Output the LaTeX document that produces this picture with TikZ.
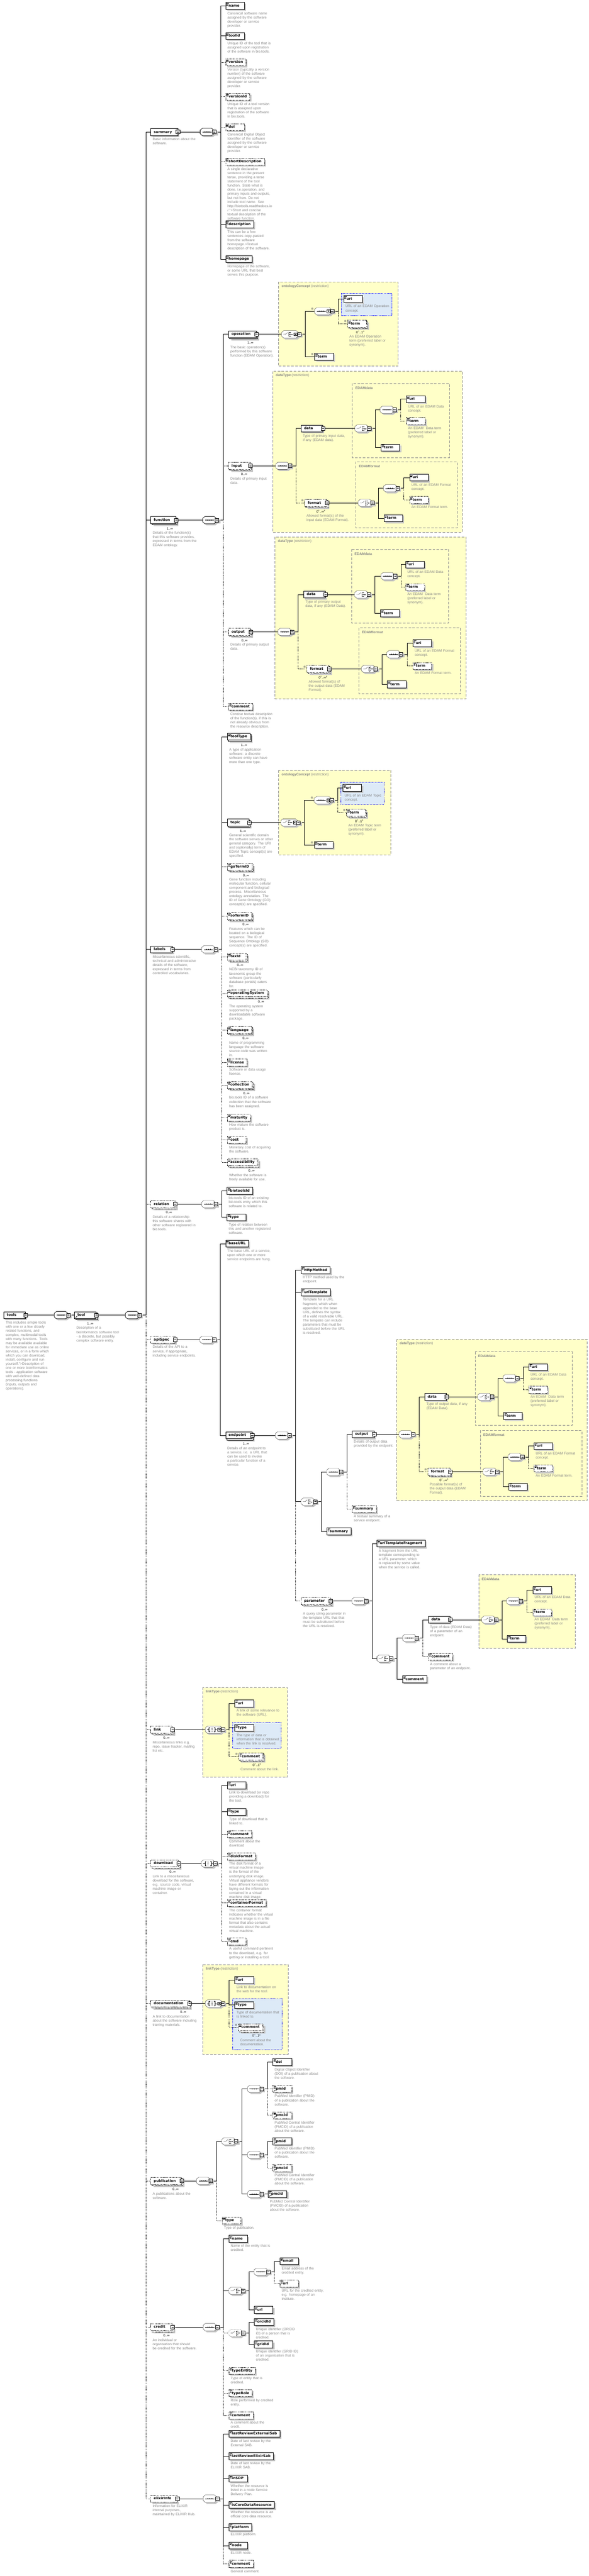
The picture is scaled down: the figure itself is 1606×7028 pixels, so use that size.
\documentclass[tikz,border=0pt]{standalone}
\usepackage{fontspec}
\usetikzlibrary{positioning,shadows,arrows.meta}
\newfontfamily\lblf{DejaVu Sans}
\newfontfamily\dscf{Liberation Sans}
\newcommand\lblfont{\lblf\bfseries\fontsize{9.5pt}{11pt}\selectfont}
\newcommand\dscfont{\dscf\fontsize{9.5pt}{11.3pt}\selectfont\hyphenpenalty=10000\exhyphenpenalty=10000}
\definecolor{descgray}{HTML}{858585}
\definecolor{shadowgray}{HTML}{C4C4C4}
\definecolor{typefill}{HTML}{FFFFC8}
\definecolor{typeline}{HTML}{8C8C8C}
\definecolor{bluefill}{HTML}{DDEAF7}
\pgfdeclarelayer{back}
\pgfdeclarelayer{bg}
\pgfsetlayers{back,bg,main}

% little icons drawn inside the element boxes
\newcommand\IconLines{\draw[solid,line width=.8pt] ([shift={(2pt,-2.5pt)}]path picture bounding box.north west) -- ++(7pt,0pt) ([shift={(2pt,-5pt)}]path picture bounding box.north west) -- ++(5pt,0pt) ([shift={(2pt,-7.5pt)}]path picture bounding box.north west) -- ++(5pt,0pt);}
\newcommand\IconRef{\draw[solid,line width=.8pt,-{Stealth[length=3pt,width=3pt]}] ([shift={(2pt,2pt)}]path picture bounding box.south west) -- ++(5pt,5pt);}
% labels shorter than the minimum box width stay left aligned
\newcommand\MinLbl[1]{\setbox0\hbox{#1}\ifdim\wd0<35pt\hbox to 35pt{#1\hfil}\else\box0\fi}

\tikzset{
  conn/.style={line width=1pt},
  dsh/.style={dash pattern=on 2pt off 2pt},
  box/.style={draw, fill=white, line width=1pt, anchor=west, font=\lblfont, minimum height=19pt, inner xsep=8pt, inner ysep=0pt, text height=7.5pt, text depth=2pt},
  req/.style={box, drop shadow={shadow xshift=4pt, shadow yshift=-4pt, fill=shadowgray, opacity=1}},
  opt/.style={req, dsh},
  mul/.style={drop shadow={shadow xshift=7pt, shadow yshift=-7pt, fill=shadowgray, opacity=1}, copy shadow={shadow xshift=3pt, shadow yshift=-3pt, fill=white, draw=black}},
  minus/.style={draw, fill=white, solid, line width=1pt, anchor=center, minimum size=10pt, inner sep=0pt, path picture={\draw[line width=1pt] ([xshift=2pt]path picture bounding box.west) -- ([xshift=-2pt]path picture bounding box.east);}},
  cpx/.style={execute at end node={\hspace*{8pt}}, label={[minus]east:{}}},
  ic/.style={path picture={\IconLines}},
  rf/.style={path picture={\IconRef}},
  icrf/.style={path picture={\IconLines\IconRef}},
  xmk/.style={font=\lblf\fontsize{8.5pt}{8.5pt}\selectfont, text=black!60, inner sep=0pt},
  xm/.style={label={[xmk, anchor=center, xshift=-6pt, yshift=-4pt]north west:⊗}},
  desc/.style={font=\dscfont, text=descgray, text width=120pt, align=left, inner sep=0pt},
  occ/.style={font=\dscf\fontsize{9pt}{10pt}\selectfont, inner sep=0pt},
  sym/.style={anchor=west, minimum height=20pt, inner sep=0pt},
  tbox/.style={draw=typeline, fill=typefill, line width=1pt, dash pattern=on 7pt off 4pt},
  bbox/.style={draw=blue, fill=bluefill, line width=1pt, dash pattern=on 2pt off 2pt},
  ttl/.style={anchor=west, font=\dscfont, text=descgray, inner sep=0pt}
}

% element box with its description
\newcommand\Elem[5][]{\node[#1] (#2) at (#3) {\MinLbl{#4}};
  \if\relax\detokenize{#5}\relax\else\node[desc, below right=6pt and 5pt of #2.south west] (#2-d) {#5};\fi}
% repeated element: occurrence under the box
\newcommand\ElemN[6][]{\node[#1,mul] (#2) at (#3) {\MinLbl{#4}};
  \node[occ] (#2-o) at ([xshift=-17pt,yshift=-13pt]#2.south east) {#5};
  \if\relax\detokenize{#6}\relax\else\node[desc, below right=21pt and 5pt of #2.south west] (#2-d) {#6};\fi}
% compositor symbols (sequence, choice, all)
\newcommand\GSeq{\draw (6,0) -- (31,0); \foreach \k in {13,18.5,24} \fill (\k,0) circle (1.5pt);}
\newcommand\GCho{\draw (5,0) -- (11,0) -- (17,-5) (20,-6) -- (20,6); \foreach \k in {-5,0,5} {\draw (20,\k) -- (23,\k); \fill (24.5,\k) circle (1.2pt);} \draw (26,0) -- (31,0);}
\newcommand\GAll{\draw (5,0) -- (10,0) (13,-6) -- (10,-6) -- (10,6) -- (13,6) (24,-6) -- (27,-6) -- (27,6) -- (24,6) (27,0) -- (32,0); \foreach \k in {-4,0,4} \fill (18.5,\k) circle (1.2pt);}
\newcommand\GDd{\draw[line width=.8pt, fill=white] (34,-4) rectangle (42,4); \fill (35.5,-1.5) -- (40.5,-1.5) -- (38,2) -- cycle;}
\newcommand\Comp[5][]{\node[sym, minimum width=#5pt] (#2) at (#3) {};
  \begin{scope}[shift={(#2.west)}]
    \fill[shadowgray] (4,-1) -- (10,-6) -- ({#5-2},-6) -- ({#5+4},-1) -- ({#5+4},9) -- ({#5-2},14) -- (10,14) -- (4,9) -- cycle;
    \fill[shadowgray] ({#5+1},-1) rectangle ({#5+11},9);
    \draw[fill=white,#1] (0,-5) -- (6,-10) -- ({#5-6},-10) -- (#5,-5) -- (#5,5) -- ({#5-6},10) -- (6,10) -- (0,5) -- cycle;
    #4
    \draw[draw=black, fill=white, line width=1.1pt] ({#5-3},-5) rectangle ({#5+7},5);
    \draw[draw=black, line width=1.1pt] ({#5-1},0) -- ({#5+5},0);
  \end{scope}}
\newcommand\SeqC[2]{\Comp{#1}{#2}{\GSeq}{37}}
\newcommand\ChoC[2]{\Comp{#1}{#2}{\GCho}{37}}
% connectors from a compositor to its children
\newcommand\Fan[3][]{\foreach \nd in {#3} {\draw[conn,#1] (#2.east) -- ++(18,0) |- (\nd.west);}}
% yellow type box and blue group box
\newcommand\TypeBox[4]{\begin{pgfonlayer}{back}\draw[tbox] (#2) rectangle (#3);\end{pgfonlayer}
  \node[ttl] (#1) at ([shift={(8pt,-12pt)}]#2) {#4};}
\newcommand\BlueBox[2]{\begin{pgfonlayer}{back}\draw[bbox] (#1) rectangle (#2);\end{pgfonlayer}}

\begin{document}
\begin{tikzpicture}[x=1pt,y=-1pt,line width=1pt]
\useasboundingbox (0,0) rectangle (1606,7028);

% root
\Elem[req,cpx]{tools}{10,3588}{tools}{This includes simple tools with one or a few closely related functions, and complex, multimodal tools with many functions.  Tools may be available available for immediate use as online services, or in a form which which you can download, install, configure and run yourself.">Description of one or more bioinformatics tools - application software with well-defined data processing functions (inputs, outputs and operations).}
\SeqC{sq0}{148,3588}
\ElemN[req,rf,cpx]{tool}{203,3588}{tool}{1..∞}{Description of a bioinformatics software tool - a discrete, but possibly complex software entity.}
\SeqC{sq1}{342,3588}

% children of tool
\Elem[req,cpx]{summary}{411,360}{summary}{Basic information about the software.}
\ElemN[req,cpx]{function}{411,1419}{function}{1..∞}{Details of the function(s) that this software provides, expressed in terms from the EDAM ontology.}
\Elem[req,cpx]{labels}{411,2590}{labels}{Miscellaneous scientific, technical and administrative details of the software, expressed in terms from controlled vocabularies.}
\ElemN[opt,cpx]{relation}{411,3285}{relation}{0..∞}{Details of a relationship this software shares with other software registered in bio.tools.}
\Elem[opt,cpx]{apiSpec}{411,3655}{apiSpec}{Details of the API to a service, if appropriate, including service endpoints.}
\ElemN[opt,cpx]{link}{411,4719}{link}{0..∞}{Miscellaneous links e.g. repo, issue tracker, mailing list etc.}
\ElemN[opt,cpx]{download}{411,5084}{download}{0..∞}{Link to a miscellaneous download for the software, e.g. source code, virtual machine image or container.}
\ElemN[opt,cpx]{documentation}{411,5466}{documentation}{0..∞}{A link to documentation about the software including training materials.}
\ElemN[opt,cpx]{publication}{411,5950}{publication}{0..∞}{A publications about the software.}
\ElemN[opt,cpx]{credit}{411,6349}{credit}{0..∞}{An individual or organisation that should be credited for the software.}
\Elem[opt,cpx]{elixirInfo}{411,6817}{elixirInfo}{Information for ELIXIR internal purposes, maintained by ELIXIR Hub.}

% summary
\SeqC{sumSq}{546,360}
\Elem[req,ic]{sName}{615,16}{name}{Canonical software name assigned by the software developer or service provider.}
\Elem[req,ic]{sToolId}{615,98}{toolId}{Unique ID of the tool that is assigned upon registration of the software in bio.tools.}
\Elem[opt,ic]{sVersion}{615,170}{version}{Version (typically a version number) of the software assigned by the software developer or service provider.}
\Elem[opt,ic]{sVersionId}{615,264}{versionId}{Unique ID of a tool version that is assigned upon registration of the software in bio.tools.}
\Elem[opt,ic]{sDoi}{615,347}{doi}{Canonical Digital Object Identifier of the software assigned by the software developer or service provider.}
\Elem[opt,ic]{sShort}{615,441}{shortDescription}{A single declarative sentence in the present tense, providing a terse statement of the tool function.  State what is done, i.e.operation, and primary inputs and outputs, but not how. Do not include tool name. See http://biotools.readthedocs.io\allowbreak/.">Short and concise textual description of the software function.}
\Elem[req,ic]{sDesc}{615,612}{description}{This can be a few sentences copy-pasted from the software homepage.>Textual description of the software.}
\Elem[req,ic]{sHome}{615,707}{homepage}{Homepage of the software, or some URL that best serves this purpose.}

% function
\SeqC{funSq}{553,1419}
\ElemN[req,cpx]{fOper}{623,912}{operation}{1..∞}{The basic operation(s) performed by this software function (EDAM Operation).}
\ElemN[opt,cpx]{fIn}{623,1271}{input}{0..∞}{Details of primary input data.}
\ElemN[opt,cpx]{fOut}{623,1724}{output}{0..∞}{Details of primary output data.}
\Elem[opt,ic]{fComm}{623,1928}{comment}{Concise textual description of the function(s), if this is not already obvious from the resource description.}

\TypeBox{opT}{760,769}{1086,999}{\textbf{ontologyConcept} (restriction)}
\Comp{opCh}{768,912}{\GCho\GDd}{46}
\Comp{opSq}{858,849}{\GSeq\GDd}{46}
\node[xmk] (opSqX) at ([shift={(-6pt,-4pt)}]opSq.north west) {⊗};
\BlueBox{931,800}{1069,861}
\Elem[req,ic]{opUri}{937,816}{uri}{URL of an EDAM Operation concept.}
\ElemN[opt,ic,xm]{opTermA}{948,883}{term}{0\textsuperscript{+}..1\textsuperscript{±}}{An EDAM Operation term (preferred label or synonym).}
\Elem[req,ic,xm]{opTermB}{858,973}{term}{}

\TypeBox{inT}{744,1013}{1261,1452}{\textbf{dataType} (restriction)}
\SeqC{inSq}{752,1271}
\Elem[req,cpx]{inData}{821,1169}{data}{Type of primary input data, if any (EDAM data).}
\ElemN[opt,cpx,xm]{inFmt}{831,1372}{format}{0\textsuperscript{+}..∞\textsuperscript{±}}{Allowed format(s) of the input data (EDAM Format).}
\TypeBox{inDT}{961,1046}{1226,1248}{\textbf{EDAMdata}}
\ChoC{inDCh}{968,1169}
\SeqC{inDSq}{1037,1118}
\Elem[req,ic]{inDUri}{1108,1089}{uri}{URL of an EDAM Data concept.}
\Elem[opt,ic]{inDTermA}{1108,1149}{term}{An EDAM\ \ Data term (preferred label or synonym).}
\Elem[req,ic]{inDTermB}{1039,1221}{term}{}
\TypeBox{inFT}{971,1260}{1247,1440}{\textbf{EDAMformat}}
\ChoC{inFCh}{977,1372}
\SeqC{inFSq}{1046,1332}
\Elem[req,ic]{inFUri}{1117,1303}{uri}{URL of an EDAM Format concept.}
\Elem[opt,ic]{inFTermA}{1117,1364}{term}{An EDAM Format term.}
\Elem[req,ic]{inFTermB}{1047,1414}{term}{}

\TypeBox{outT}{750,1465}{1271,1906}{\textbf{dataType} (restriction)}
\SeqC{outSq}{758,1724}
\Elem[req,cpx]{outData}{828,1622}{data}{Type of primary output data, if any (EDAM Data).}
\ElemN[opt,cpx,xm]{outFmt}{837,1825}{format}{0\textsuperscript{+}..∞\textsuperscript{±}}{Allowed format(s) of the output data (EDAM Format).}
\TypeBox{outDT}{959,1499}{1224,1700}{\textbf{EDAMdata}}
\ChoC{outDCh}{967,1622}
\SeqC{outDSq}{1039,1572}
\Elem[req,ic]{outDUri}{1106,1540}{uri}{URL of an EDAM Data concept.}
\Elem[opt,ic]{outDTermA}{1106,1602}{term}{An EDAM\ \ Data term (preferred label or synonym).}
\Elem[req,ic]{outDTermB}{1038,1673}{term}{}
\TypeBox{outFT}{979,1713}{1256,1892}{\textbf{EDAMformat}}
\ChoC{outFCh}{986,1825}
\SeqC{outFSq}{1055,1785}
\Elem[req,ic]{outFUri}{1126,1755}{uri}{URL of an EDAM Format concept.}
\Elem[opt,ic]{outFTermA}{1126,1817}{term}{An EDAM Format term.}
\Elem[req,ic]{outFTermB}{1056,1867}{term}{}

% labels
\SeqC{labSq}{550,2590}
\ElemN[req,ic]{lType}{620,2010}{toolType}{1..∞}{A type of application software: a discrete software entity can have more than one type.}
\ElemN[req,cpx]{lTopic}{620,2244}{topic}{1..∞}{General scientific domain the software serves or other general category.  The URI and (optionally) term of EDAM Topic concept(s) are specified.}
\TypeBox{tpT}{760,2102}{1066,2332}{\textbf{ontologyConcept} (restriction)}
\Comp{tpCh}{766,2244}{\GCho\GDd}{46}
\Comp{tpSq}{857,2183}{\GSeq\GDd}{46}
\node[xmk] (tpSqX) at ([shift={(-6pt,-4pt)}]tpSq.north west) {⊗};
\BlueBox{929,2134}{1047,2194}
\Elem[req,ic]{tpUri}{935,2150}{uri}{URL of an EDAM Topic concept.}
\ElemN[opt,ic,xm]{tpTermA}{945,2217}{term}{0\textsuperscript{+}..1\textsuperscript{±}}{An EDAM Topic term (preferred label or synonym).}
\Elem[req,ic,xm]{tpTermB}{857,2305}{term}{}
\ElemN[opt,ic]{lGo}{620,2365}{goTermID}{0..∞}{Gene function including molecular function, cellular component and biological process.  Miscellaneous ontology annotation. The ID of Gene Ontology (GO) concept(s) are specified.}
\ElemN[opt,ic]{lSo}{620,2499}{soTermID}{0..∞}{Features which can be located on a biological sequence. The ID of Sequence Ontology (SO) concept(s) are specified.}
\ElemN[opt,ic]{lTax}{620,2610}{taxId}{0..∞}{NCBI taxonomy ID of taxonomic group the software (particularly database portals) caters for.}
\ElemN[opt,ic]{lOS}{620,2710}{operatingSystem}{0..∞}{The operating system supported by a downloadable software package.}
\ElemN[opt,ic]{lLang}{620,2810}{language}{0..∞}{Name of programming language the software source code was written in.}
\Elem[opt,ic]{lLic}{620,2899}{license}{Software or data usage license.}
\ElemN[opt,ic]{lColl}{620,2960}{collection}{0..∞}{bio.tools ID of a software collection that the software has been assigned.}
\Elem[opt,ic]{lMat}{620,3049}{maturity}{How mature the software product is.}
\Elem[opt,ic]{lCost}{620,3110}{cost}{Monetary cost of acquiring the software.}
\ElemN[opt,ic]{lAcc}{620,3171}{accessibility}{0..∞}{Whether the software is freely available for use.}

% relation
\SeqC{relSq}{550,3285}
\Elem[req,ic]{rId}{619,3249}{biotoolsId}{bio.tools ID of an existing bio.tools entry which this software is related to.}
\Elem[req,ic]{rType}{619,3321}{type}{Type of relation between this and another registered software.}

% apiSpec
\SeqC{apiSq}{545,3655}
\Elem[req,ic]{aBase}{615,3393}{baseURL}{The base URL of a service, upon which one or more service endpoints are hung.}
\ElemN[req,cpx]{aEnd}{615,3916}{endpoint}{1..∞}{Details of an endpoint to a service, i.e. a URL that can be used to invoke a particular function of a service.}
\SeqC{epSq}{751,3916}
\Elem[req,ic]{eMeth}{821,3465}{httpMethod}{HTTP method used by the endpoint.}
\Elem[req,ic]{eTmpl}{821,3526}{urlTemplate}{Template for a URL fragment, which when appended to the base URL, defines the syntax of a valid resolvable URL.  The template can include parameters that must be substituted before the URL is resolved.}
\ChoC{epCh}{821,4097}
\SeqC{epSq2}{891,4016}
\Elem[req,cpx]{eOut}{960,3913}{output}{Details of output data provided by the endpoint.}
\TypeBox{eoT}{1082,3654}{1601,4094}{\textbf{dataType} (restriction)}
\SeqC{eoSq}{1088,3913}
\Elem[req,cpx]{eoData}{1158,3811}{data}{Type of output data, if any (EDAM Data).}
\ElemN[opt,cpx,xm]{eoFmt}{1167,4015}{format}{0\textsuperscript{+}..∞\textsuperscript{±}}{Possible format(s) of the output data (EDAM Format).}
\TypeBox{eoDT}{1296,3688}{1560,3889}{\textbf{EDAMdata}}
\ChoC{eoDCh}{1303,3811}
\SeqC{eoDSq}{1372,3760}
\Elem[req,ic]{eoDUri}{1442,3730}{uri}{URL of an EDAM Data concept.}
\Elem[opt,ic]{eoDTermA}{1442,3791}{term}{An EDAM\ \ Data term (preferred label or synonym).}
\Elem[req,ic]{eoDTermB}{1373,3863}{term}{}
\TypeBox{eoFT}{1310,3903}{1587,4083}{\textbf{EDAMformat}}
\ChoC{eoFCh}{1317,4015}
\SeqC{eoFSq}{1386,3975}
\Elem[req,ic]{eoFUri}{1456,3945}{uri}{URL of an EDAM Format concept.}
\Elem[opt,ic]{eoFTermA}{1456,4006}{term}{An EDAM Format term.}
\Elem[req,ic]{eoFTermB}{1387,4056}{term}{}
\Elem[opt,ic]{eSum}{960,4117}{summary}{A textual summary of a service endpoint.}
\Elem[req,ic]{eSum2}{891,4178}{summary}{}
\ElemN[opt,cpx]{ePar}{821,4368}{parameter}{0..∞}{A query string parameter in the template URL that that must be substituted before the URL is resolved.}
\SeqC{parSq}{960,4368}
\Elem[req,ic]{pFrag}{1028,4211}{urlTemplateFragment}{A fragment from the URL template corresponding to a URL parameter, which is replaced by some value when the service is called.}
\ChoC{parCh}{1028,4525}
\SeqC{parSq2}{1098,4469}
\Elem[req,cpx]{pData}{1168,4419}{data}{Type of data (EDAM Data) of a parameter of an endpoint.}
\TypeBox{pDT}{1306,4296}{1569,4497}{\textbf{EDAMdata}}
\ChoC{pDCh}{1314,4419}
\SeqC{pDSq}{1382,4368}
\Elem[req,ic]{pDUri}{1453,4338}{uri}{URL of an EDAM Data concept.}
\Elem[opt,ic]{pDTermA}{1453,4399}{term}{An EDAM\ \ Data term (preferred label or synonym).}
\Elem[req,ic]{pDTermB}{1383,4471}{term}{}
\Elem[opt,ic]{pComm}{1168,4520}{comment}{A comment about a parameter of an endpoint.}
\Elem[req,ic]{pComm2}{1098,4581}{comment}{}

% link
\TypeBox{lkT}{553,4604}{784,4848}{\textbf{linkType} (restriction)}
\Comp{lnkAll}{560,4719}{\GAll\GDd}{46}
\Elem[req,ic]{kUrl}{640,4647}{url}{A link of some relevance to the software (URL).}
\BlueBox{634,4699}{766,4770}
\Elem[req,ic]{kType}{640,4714}{type}{The type of data or information that is obtained when the link is resolved.}
\ElemN[opt,ic,xm]{kComm}{651,4792}{comment}{0\textsuperscript{+}..1\textsuperscript{±}}{Comment about the link.}

% download
\Comp{dlAll}{549,5084}{\GAll}{37}
\Elem[req,ic]{dUrl}{620,4871}{url}{Link to download (or repo providing a download) for the tool.}
\Elem[req,ic]{dType}{620,4943}{type}{Type of download that is linked to.}
\Elem[opt,ic]{dComm}{620,5004}{comment}{Comment about the download}
\Elem[opt,ic]{dDisk}{620,5065}{diskFormat}{The disk format of a virtual machine image is the format of the underlying disk image. Virtual appliance vendors have different formats for laying out the information contained in a virtual machine disk image.}
\Elem[opt,ic]{dCont}{620,5192}{containerFormat}{The container format indicates whether the virtual machine image is in a file format that also contains metadata about the actual virtual machine.}
\Elem[opt,ic]{dCmd}{620,5297}{cmd}{A useful command pertinent to the download, e.g. for getting or installing a tool.}

% documentation
\TypeBox{dcT}{553,5360}{786,5604}{\textbf{linkType} (restriction)}
\Comp{docAll}{560,5466}{\GAll\GDd}{46}
\Elem[req,ic]{oUrl}{640,5402}{url}{Link to documentation on the web for the tool.}
\BlueBox{634,5453}{769,5592}
\Elem[req,ic]{oType}{640,5470}{type}{Type of documentation that is linked to.}
\ElemN[opt,ic,xm]{oComm}{650,5531}{comment}{0\textsuperscript{+}..1\textsuperscript{±}}{Comment about the documentation.}

% publication
\SeqC{pubSq}{536,5950}
\ChoC{pubCh}{605,5842}
\SeqC{pubSq1}{675,5699}
\Elem[req,ic]{bDoi}{744,5626}{doi}{Digital Object Identifier (DOI) of a publication about the software.}
\Elem[opt,icrf]{bPmidA}{744,5699}{pmid}{PubMed Identifier (PMID) of a publication about the software.}
\Elem[opt,icrf]{bPmcidA}{744,5771}{pmcid}{PubMed Central Identifier (PMCID) of a publication about the software.}
\SeqC{pubSq2}{675,5879}
\Elem[req,icrf]{bPmidB}{744,5842}{pmid}{PubMed Identifier (PMID) of a publication about the software.}
\Elem[opt,icrf]{bPmcidB}{744,5915}{pmcid}{PubMed Central Identifier (PMCID) of a publication about the software.}
\SeqC{pubSq3}{675,5986}
\Elem[req,icrf]{bPmcidC}{731,5986}{pmcid}{PubMed Central Identifier (PMCID) of a publication about the software.}
\Elem[opt,ic]{bType}{606,6058}{type}{Type of publication.}

% credit
\SeqC{crSq}{554,6349}
\Elem[req,ic]{cName}{624,6108}{name}{Name of the entity that is credited.}
\ChoC{crCh1}{624,6250}
\SeqC{crSq2}{693,6198}
\Elem[req,ic]{cEmail}{763,6169}{email}{Email address of the credited entity.}
\Elem[opt,ic]{cUrlA}{763,6230}{url}{URL for the credited entity, e.g. homepage of an institute.}
\Elem[req,ic]{cUrlB}{693,6302}{url}{}
\Comp[dsh]{crCh2}{624,6365}{\GCho}{37}
\Elem[req,ic]{cOrcid}{693,6335}{orcidId}{Unique identifier (ORCID iD) of a person that is credited.}
\Elem[req,ic]{cGrid}{693,6396}{gridId}{Unique identifier (GRID ID) of an organisation that is credited.}
\Elem[opt,ic]{cTEnt}{624,6468}{typeEntity}{Type of entity that is credited.}
\Elem[opt,ic]{cTRole}{624,6529}{typeRole}{Role performed by credited entity.}
\Elem[opt,ic]{cComm}{624,6590}{comment}{A comment about the credit.}

% elixirInfo
\SeqC{elSq}{554,6817}
\Elem[req,ic]{xExt}{624,6640}{lastReviewExternalSab}{Date of last review by the External SAB.}
\Elem[req,ic]{xElx}{624,6701}{lastReviewElixirSab}{Date of last review by the ELIXIR SAB.}
\Elem[req,ic]{xSdp}{624,6762}{inSDP}{Whether the resource is listed in a node Service Delivery Plan.}
\Elem[req,ic]{xCore}{624,6834}{isCoreDataResource}{Whether the resource is an official core data resource.}
\Elem[req,ic]{xPlat}{624,6895}{platform}{ELIXIR platform.}
\Elem[req,ic]{xNode}{624,6945}{node}{ELIXIR node.}
\Elem[opt,ic]{xComm}{624,6995}{comment}{General comment.}

% connectors
\begin{pgfonlayer}{bg}
\draw[conn] (tools.east) -- (sq0.west);
\draw[conn] (sq0.east) -- (tool.west);
\draw[conn] (tool.east) -- (sq1.west);
\Fan{sq1}{summary,function,labels}
\Fan[dsh]{sq1}{relation,apiSpec,link,download,documentation,publication,credit,elixirInfo}
\draw[conn] (summary.east) -- (sumSq.west);
\Fan{sumSq}{sName,sToolId,sDesc,sHome}
\Fan[dsh]{sumSq}{sVersion,sVersionId,sDoi,sShort}
\draw[conn] (function.east) -- (funSq.west);
\Fan{funSq}{fOper}
\Fan[dsh]{funSq}{fIn,fOut,fComm}
\draw[conn] (fOper.east) -- (opCh.west);
\Fan{opCh}{opSq,opTermB}
\Fan{opSq}{opUri}
\Fan[dsh]{opSq}{opTermA}
\draw[conn] (fIn.east) -- (inSq.west);
\Fan{inSq}{inData}
\Fan[dsh]{inSq}{inFmt}
\draw[conn] (inData.east) -- (inDCh.west);
\Fan{inDCh}{inDSq,inDTermB}
\Fan{inDSq}{inDUri}
\Fan[dsh]{inDSq}{inDTermA}
\draw[conn] (inFmt.east) -- (inFCh.west);
\Fan{inFCh}{inFSq,inFTermB}
\Fan{inFSq}{inFUri}
\Fan[dsh]{inFSq}{inFTermA}
\draw[conn] (fOut.east) -- (outSq.west);
\Fan{outSq}{outData}
\Fan[dsh]{outSq}{outFmt}
\draw[conn] (outData.east) -- (outDCh.west);
\Fan{outDCh}{outDSq,outDTermB}
\Fan{outDSq}{outDUri}
\Fan[dsh]{outDSq}{outDTermA}
\draw[conn] (outFmt.east) -- (outFCh.west);
\Fan{outFCh}{outFSq,outFTermB}
\Fan{outFSq}{outFUri}
\Fan[dsh]{outFSq}{outFTermA}
\draw[conn] (labels.east) -- (labSq.west);
\Fan{labSq}{lType,lTopic}
\Fan[dsh]{labSq}{lGo,lSo,lTax,lOS,lLang,lLic,lColl,lMat,lCost,lAcc}
\draw[conn] (lTopic.east) -- (tpCh.west);
\Fan{tpCh}{tpSq,tpTermB}
\Fan{tpSq}{tpUri}
\Fan[dsh]{tpSq}{tpTermA}
\draw[conn] (relation.east) -- (relSq.west);
\Fan{relSq}{rId,rType}
\draw[conn] (apiSpec.east) -- (apiSq.west);
\Fan{apiSq}{aBase,aEnd}
\draw[conn] (aEnd.east) -- (epSq.west);
\Fan{epSq}{eMeth,eTmpl,epCh}
\Fan[dsh]{epSq}{ePar}
\Fan{epCh}{epSq2,eSum2}
\Fan{epSq2}{eOut}
\Fan[dsh]{epSq2}{eSum}
\draw[conn] (eOut.east) -- (eoSq.west);
\Fan{eoSq}{eoData}
\Fan[dsh]{eoSq}{eoFmt}
\draw[conn] (eoData.east) -- (eoDCh.west);
\Fan{eoDCh}{eoDSq,eoDTermB}
\Fan{eoDSq}{eoDUri}
\Fan[dsh]{eoDSq}{eoDTermA}
\draw[conn] (eoFmt.east) -- (eoFCh.west);
\Fan{eoFCh}{eoFSq,eoFTermB}
\Fan{eoFSq}{eoFUri}
\Fan[dsh]{eoFSq}{eoFTermA}
\draw[conn] (ePar.east) -- (parSq.west);
\Fan{parSq}{pFrag,parCh}
\Fan{parCh}{parSq2,pComm2}
\Fan{parSq2}{pData}
\Fan[dsh]{parSq2}{pComm}
\draw[conn] (pData.east) -- (pDCh.west);
\Fan{pDCh}{pDSq,pDTermB}
\Fan{pDSq}{pDUri}
\Fan[dsh]{pDSq}{pDTermA}
\draw[conn] (link.east) -- (lnkAll.west);
\Fan{lnkAll}{kUrl,kType}
\Fan[dsh]{lnkAll}{kComm}
\draw[conn] (download.east) -- (dlAll.west);
\Fan{dlAll}{dUrl,dType}
\Fan[dsh]{dlAll}{dComm,dDisk,dCont,dCmd}
\draw[conn] (documentation.east) -- (docAll.west);
\Fan{docAll}{oUrl,oType}
\Fan[dsh]{docAll}{oComm}
\draw[conn] (publication.east) -- (pubSq.west);
\Fan{pubSq}{pubCh}
\Fan[dsh]{pubSq}{bType}
\Fan{pubCh}{pubSq1,pubSq2,pubSq3}
\Fan{pubSq1}{bDoi}
\Fan[dsh]{pubSq1}{bPmidA,bPmcidA}
\Fan{pubSq2}{bPmidB}
\Fan[dsh]{pubSq2}{bPmcidB}
\draw[conn] (pubSq3.east) -- (bPmcidC.west);
\draw[conn] (credit.east) -- (crSq.west);
\Fan{crSq}{cName,crCh1}
\Fan[dsh]{crSq}{crCh2,cTEnt,cTRole,cComm}
\Fan{crCh1}{crSq2,cUrlB}
\Fan{crSq2}{cEmail}
\Fan[dsh]{crSq2}{cUrlA}
\Fan{crCh2}{cOrcid,cGrid}
\draw[conn] (elixirInfo.east) -- (elSq.west);
\Fan{elSq}{xExt,xElx,xSdp,xCore,xPlat,xNode}
\Fan[dsh]{elSq}{xComm}
\end{pgfonlayer}
\end{tikzpicture}
\end{document}
